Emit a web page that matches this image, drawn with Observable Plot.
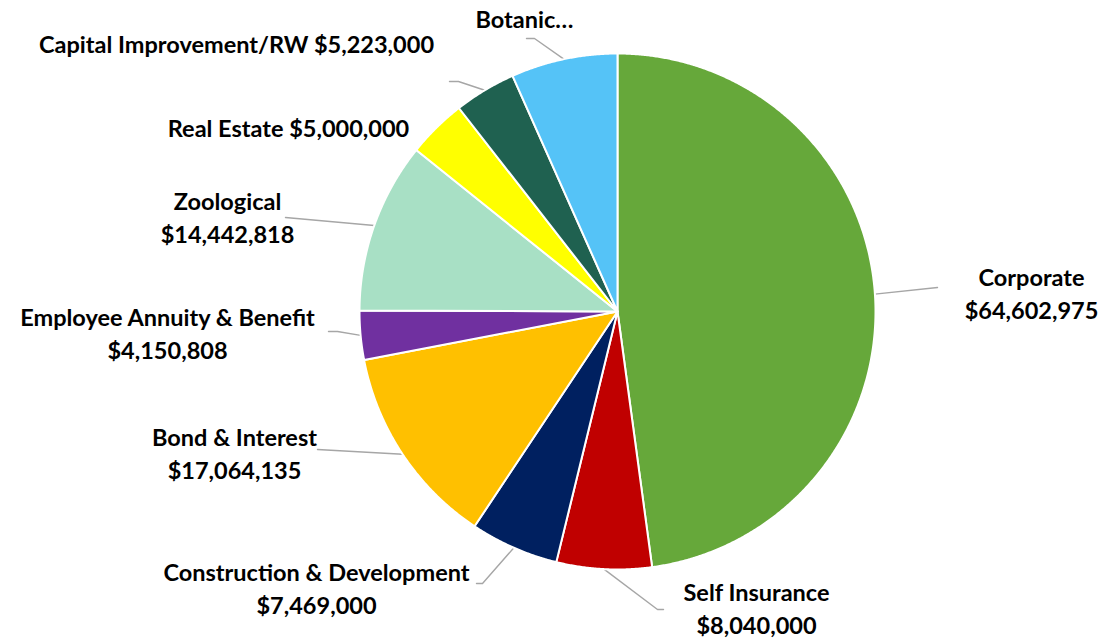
<!DOCTYPE html>
<html><head><meta charset="utf-8">
<script src="https://cdn.jsdelivr.net/npm/d3@7"></script>
<script src="https://cdn.jsdelivr.net/npm/@observablehq/plot@0.6"></script>
<style>html,body{margin:0;padding:0;background:#fff}</style>
</head><body><div id="chart"></div>
<script>
// ---- data ----
const categories = ["Corporate","Self Insurance","Construction & Development","Bond & Interest","Employee Annuity & Benefit","Zoological","Real Estate","Capital Improvement/RW","Botanic"];
const values = [64602975, 8040000, 7469000, 17064135, 4150808, 14442818, 5000000, 5223000, 9000000];
const labelTexts = ["Corporate\n$64,602,975","Self Insurance\n$8,040,000","Construction & Development\n$7,469,000","Bond & Interest\n$17,064,135","Employee Annuity & Benefit\n$4,150,808","Zoological\n$14,442,818","Real Estate $5,000,000","Capital Improvement/RW $5,223,000","Botanic…"];
const colors = ["#66a83a","#c00000","#002060","#ffc000","#7030a0","#a8e0c5","#ffff00","#1f6150","#55c3f7"];

// ---- layout ----
const W = 1102, H = 639, CX = 617, CY = 311, R = 258;
// label anchor (center of text block) per category
const labelPos = {
  "Corporate": [1031, 291], "Self Insurance": [756, 606], "Construction & Development": [316, 586],
  "Bond & Interest": [234, 451], "Employee Annuity & Benefit": [167, 331], "Zoological": [227, 215],
  "Real Estate": [288, 126], "Capital Improvement/RW": [236, 42], "Botanic": [524, 17]
};
// leader line path beyond the arc point (null = no leader)
const leaderEnds = {
  "Corporate": [[937, 287]], "Self Insurance": [[657, 609], [663, 609]],
  "Construction & Development": [[482, 583], [476, 583]], "Bond & Interest": [[317, 449]],
  "Employee Annuity & Benefit": [[337, 331], [328, 331]], "Zoological": [[285, 217]],
  "Real Estate": null, "Capital Improvement/RW": [[458, 81], [449, 81]], "Botanic": [[534, 38], [526, 38]]
};

const table = categories.map((name, i) => ({name, value: values[i], label: labelTexts[i]}));
const arcs = d3.pie().sort(null).value(d => d.value)(table);
const pt = a => [CX + R * Math.sin(a), CY - R * Math.cos(a)];

const slicePts = [];
for (const a of arcs) {
  const name = a.data.name;
  slicePts.push({name, x: CX, y: CY});
  const n = Math.max(2, Math.ceil((a.endAngle - a.startAngle) / 0.005));
  for (let k = 0; k <= n; k++) {
    const t = a.startAngle + (a.endAngle - a.startAngle) * k / n;
    const [x, y] = pt(t);
    slicePts.push({name, x, y});
  }
  slicePts.push({name, x: CX, y: CY});
}

const leaderPts = [];
for (const a of arcs) {
  const name = a.data.name;
  const ends = leaderEnds[name];
  if (!ends) continue;
  const [x0, y0] = pt((a.startAngle + a.endAngle) / 2);
  leaderPts.push({name, x: x0, y: y0});
  for (const [x, y] of ends) leaderPts.push({name, x, y});
}

const labels = table.map(d => ({name: d.name, label: d.label, x: labelPos[d.name][0], y: labelPos[d.name][1]}));

const chart = Plot.plot({
  width: W, height: H,
  margin: 0,
  x: {domain: [0, W], range: [0, W], axis: null},
  y: {domain: [0, H], range: [0, H], axis: null},
  color: {domain: categories, range: colors},
  style: {background: "#fff"},
  marks: [
    Plot.line(leaderPts, {x: "x", y: "y", z: "name", stroke: "#a6a6a6", strokeWidth: 1.4, curve: "linear"}),
    Plot.line(slicePts, {x: "x", y: "y", z: "name", fill: "name", stroke: "#fff", strokeWidth: 2, strokeLinejoin: "round", curve: "linear"}),
    Plot.text(labels, {x: "x", y: "y", text: "label", fontSize: 23.5, fontWeight: "bold", fontFamily: "Lato", lineHeight: 1.42, lineAnchor: "middle", fill: "#000"})
  ]
});
document.getElementById("chart").appendChild(chart);
</script>
</body></html>
